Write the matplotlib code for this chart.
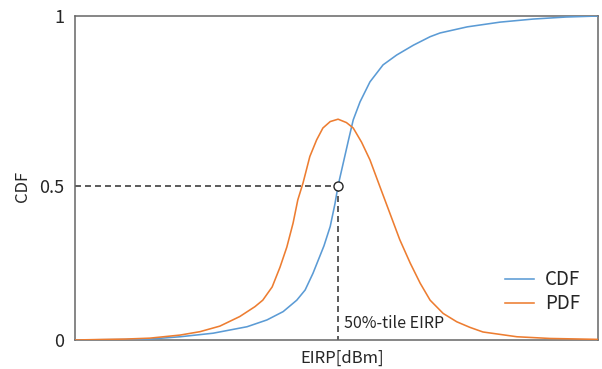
import matplotlib
matplotlib.use("Agg")
import matplotlib.pyplot as plt
import numpy as np

plt.rcParams['font.family'] = ['Noto Sans CJK JP', 'DejaVu Sans']

# EIRP axis in arbitrary units (no tick labels in the reference)
cdf_x = [0, 9.6, 14.3, 20.1, 26.4, 32.9, 36.7, 39.8, 42.4, 44.0, 45.5, 47.6, 48.8, 49.7,
         50.3, 52.3, 53.2, 54.5, 56.4, 58.9, 61.5, 64.7, 67.9, 69.8, 75.0, 81.3, 87.6, 93.9, 100]
cdf_y = [0, 0.0016, 0.003, 0.0105, 0.022, 0.043, 0.065, 0.092, 0.129, 0.162, 0.216, 0.305, 0.368, 0.441,
         0.5, 0.635, 0.694, 0.747, 0.806, 0.856, 0.885, 0.914, 0.939, 0.950, 0.968, 0.982, 0.991, 0.997, 1.0]

pdf_x = [0, 4.8, 9.6, 14.3, 20.1, 23.9, 27.7, 31.5, 34.4, 35.9, 37.7, 39.2, 40.5, 41.7, 42.6,
         43.6, 44.9, 46.2, 47.4, 48.8, 50.3, 51.9, 53.2, 54.8, 56.4, 58.3, 60.2, 62.1, 64.1,
         66.0, 67.9, 70.4, 73.0, 75.5, 78.0, 84.5, 90.8, 100]
pdf_y = [0, 0.0016, 0.003, 0.006, 0.016, 0.027, 0.045, 0.076, 0.108, 0.129, 0.172, 0.236, 0.301, 0.379, 0.454,
         0.508, 0.586, 0.635, 0.670, 0.689, 0.696, 0.686, 0.670, 0.628, 0.576, 0.497, 0.411, 0.325, 0.249,
         0.184, 0.129, 0.086, 0.059, 0.041, 0.026, 0.0105, 0.005, 0.002]

median_x = 50.3
median_y = 0.5
yticks = [0, 0.5, 1]
ytick_labels = ["0", "0.5", "1"]


# the reference's vertical axis is slightly compressed below 0.5
def fwd(v):
    v = np.asarray(v, dtype=float)
    return np.where(v <= 0.5, v * 0.9524, 0.4762 + (v - 0.5) * 1.0476)


def inv(f):
    f = np.asarray(f, dtype=float)
    return np.where(f <= 0.4762, f / 0.9524, 0.5 + (f - 0.4762) / 1.0476)


fig = plt.figure(figsize=(6.02, 3.69), dpi=100)
ax = fig.add_axes([75/602, 1-340/369, (598-75)/602, (340-16)/369])
ax.set_yscale('function', functions=(fwd, inv))

ax.plot(cdf_x, cdf_y, color='#5B9BD5', lw=1.15, label='CDF', zorder=3)
ax.plot(pdf_x, pdf_y, color='#ED7D31', lw=1.15, label='PDF', zorder=3)

dash = (0, (3.6, 2.4))
ax.plot([0, median_x], [median_y, median_y], color='#404040', lw=1.2, ls=dash, zorder=2)
ax.plot([median_x, median_x], [median_y, 0], color='#404040', lw=1.2, ls=dash, zorder=2)
ax.plot([median_x], [median_y], marker='o', ms=6.5, mfc='white', mec='#262626', mew=1.0, zorder=4)
ax.text(median_x + 1.1, 0.025, "50%-tile EIRP", fontsize=11.5, color='#262626', va='bottom', ha='left')

ax.set_xlim(0, 100)
ax.set_ylim(0, 1)
ax.set_xticks([])
ax.set_yticks(yticks)
ax.set_yticklabels(ytick_labels)
ax.minorticks_off()
ax.tick_params(axis='y', which='both', length=0, pad=8, labelsize=13, labelcolor='#262626')
for s in ax.spines.values():
    s.set_color('#666666')
    s.set_linewidth(1.1)

ax.set_xlabel("EIRP[dBm]", fontsize=12, color='#262626')
ax.xaxis.set_label_coords(0.51, -0.03)
ax.set_ylabel("CDF", fontsize=12, color='#262626')
ax.yaxis.set_label_coords(-0.085, 0.475)

leg = ax.legend(loc='upper left', bbox_to_anchor=(0.822, 0.218), frameon=False, fontsize=13.5,
                handlelength=1.55, handletextpad=0.6, labelspacing=0.15,
                borderaxespad=0, borderpad=0)
for t in leg.get_texts():
    t.set_color('#262626')

fig.savefig("out.png", dpi=100)
